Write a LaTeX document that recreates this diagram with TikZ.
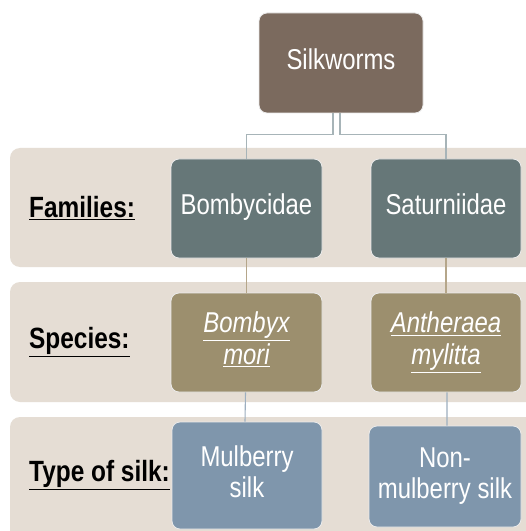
\documentclass[tikz,border=0pt]{standalone}
\usepackage{fontspec}
\setmainfont{Liberation Sans}
\usepackage{graphicx}
\definecolor{bandc}{HTML}{E5DDD4}
\definecolor{silkc}{HTML}{7B6A5E}
\definecolor{famc}{HTML}{667778}
\definecolor{spc}{HTML}{9C8F6E}
\definecolor{typc}{HTML}{7F96AC}
\definecolor{lineA}{HTML}{A7B4B8}
\definecolor{lineB}{HTML}{B5A68A}
\definecolor{lineC}{HTML}{9DAFC0}
\newcommand{\tx}[1]{\scalebox{1}[1.2]{\begin{tabular}{@{}c@{}}#1\end{tabular}}}
\newcommand{\lb}[1]{\scalebox{1}[1.2]{\bfseries\underline{#1}}}
\begin{document}
\begin{tikzpicture}[x=1bp,y=-1bp,
  box/.style={draw=white!92!black,line width=0.8bp,rounded corners=8bp,inner sep=0pt,
    text=white,font=\fontsize{24pt}{26.5pt}\selectfont,align=center},
  band/.style={fill=bandc,rounded corners=10bp},
  lab/.style={anchor=west,inner sep=0pt,font=\fontsize{24.5pt}{27pt}\selectfont},
  conn/.style={line width=1.1bp}]
\useasboundingbox (0,0) rectangle (526,531);
\fill[white] (0,0) rectangle (526,531);
\begin{scope}
\clip (0,0) rectangle (526,531);
\fill[band] (10,148) rectangle (545,267);
\fill[band] (10,282) rectangle (545,402);
\fill[band] (10,417) rectangle (545,560);
\end{scope}
\node[box,fill=silkc,minimum width=164bp,minimum height=100bp] (silk) at (341,63) {\tx{Silkworms}};
\node[box,fill=famc,minimum width=151bp,minimum height=99bp] (bomb) at (246.5,208.5) {\tx{Bombycidae}};
\node[box,fill=famc,minimum width=150bp,minimum height=99bp] (satu) at (446,208.5) {\tx{Saturniidae}};
\node[box,fill=spc,minimum width=151bp,minimum height=99bp] (bmori) at (246.5,342.5) {\tx{\itshape\underline{Bombyx}\\\itshape\underline{mori}}};
\node[box,fill=spc,minimum width=150bp,minimum height=99bp] (anth) at (446,342.5) {\tx{\itshape\underline{Antheraea}\\\itshape\underline{mylitta}}};
\node[box,fill=typc,minimum width=150bp,minimum height=107bp] (mulb) at (247,475.5) {\tx{Mulberry\\silk}};
\node[box,fill=typc,minimum width=152bp,minimum height=101bp] (nonm) at (445,476.5) {\tx{Non-\\mulberry silk}};
\node[lab] (lfam) at (29,208) {\lb{Families:}};
\node[lab] (lsp) at (29,342) {\lb{Species:}};
\node[lab] (lty) at (29,475) {\lb{Type of silk:}};
\draw[conn,lineA] ([xshift=-8bp]silk.south) -- ++(0,21) -| (bomb.north);
\draw[conn,lineA] ([xshift=-1bp]silk.south) -- ++(0,21) -| (satu.north);
\draw[conn,lineB] (bomb.south) -- (bmori.north);
\draw[conn,lineB] (satu.south) -- (anth.north);
\draw[conn,lineC] ([xshift=-1bp]bmori.south) -- ([xshift=-2bp]mulb.north);
\draw[conn,lineC] ([xshift=1bp]anth.south) -- ([xshift=2bp]nonm.north);
\end{tikzpicture}
\end{document}
